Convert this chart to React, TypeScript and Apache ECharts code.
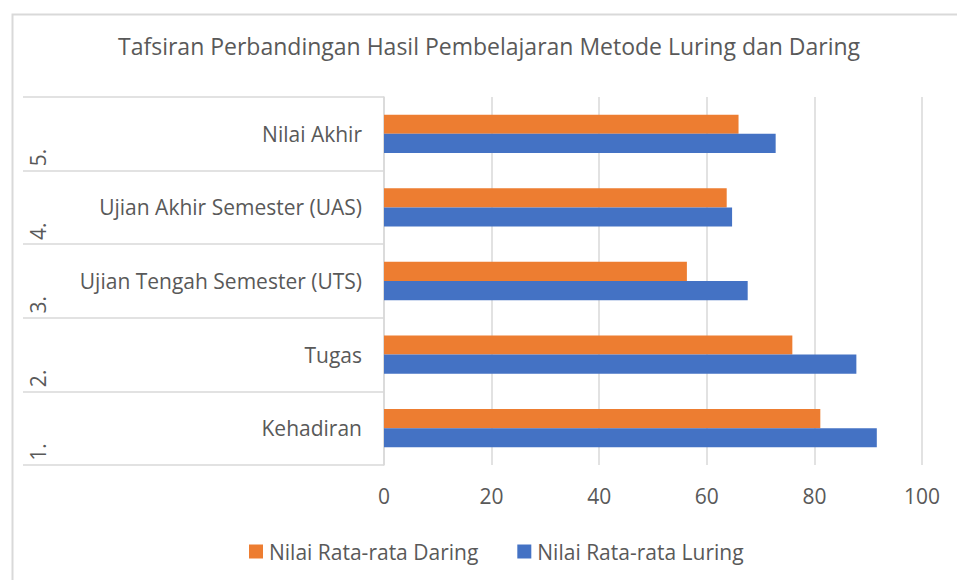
import React, { useEffect, useRef } from "react";
import * as echarts from "echarts";

const categories = ["Kehadiran", "Tugas", "Ujian Tengah Semester (UTS)", "Ujian Akhir Semester (UAS)", "Nilai Akhir"];
const numbers = ["1.", "2.", "3.", "4.", "5."];
const daring = [81.1, 75.9, 56.3, 63.7, 65.9];
const luring = [91.6, 87.8, 67.6, 64.7, 72.8];
const xTicks = { min: 0, max: 100, interval: 20 };
const titleText = "Tafsiran Perbandingan Hasil Pembelajaran Metode Luring dan Daring";
const seriesNames = ["Nilai Rata-rata Daring", "Nilai Rata-rata Luring"];

const FONT = "Open Sans";
const GREY = "#595959";
const LINE = "#d9d9d9";

export default function App() {
  const ref = useRef<HTMLDivElement>(null);
  useEffect(() => {
    const chart = echarts.init(ref.current!, null, { renderer: "svg" });
    chart.setOption({
      animation: false,
      backgroundColor: "#ffffff",
      textStyle: { fontFamily: FONT },
      title: {
        text: titleText,
        left: 113,
        top: 29,
        textStyle: { fontFamily: FONT, fontSize: 23, fontWeight: "normal", color: GREY },
      },
      graphic: [
        {
          type: "rect",
          left: 10,
          top: 12,
          shape: { width: 1000, height: 700 },
          style: { fill: "none", stroke: LINE, lineWidth: 2 },
          silent: true,
        },
      ],
      legend: {
        data: seriesNames,
        left: 249,
        top: 541,
        padding: 0,
        itemWidth: 14,
        itemHeight: 14,
        itemGap: 39,
        icon: "rect",
        textStyle: { fontFamily: FONT, fontSize: 21, color: GREY, padding: [0, 0, 0, 1] },
      },
      grid: { left: 384, right: 35, top: 97, bottom: 115, containLabel: false },
      xAxis: {
        type: "value",
        min: xTicks.min,
        max: xTicks.max,
        interval: xTicks.interval,
        axisLine: { show: false },
        axisTick: { show: false },
        splitLine: { lineStyle: { color: LINE, width: 1.5 } },
        axisLabel: { fontFamily: FONT, fontSize: 21, color: GREY, margin: 20 },
      },
      yAxis: [
        {
          type: "category",
          data: categories,
          axisLine: { show: true, lineStyle: { color: LINE, width: 1.5 } },
          axisTick: { show: true, length: 361, lineStyle: { color: LINE, width: 1.5 } },
          axisLabel: { fontFamily: FONT, fontSize: 21, color: GREY, margin: 22 },
        },
        {
          type: "category",
          data: numbers,
          position: "left",
          axisLine: { show: false },
          axisTick: { show: false },
          axisLabel: {
            fontFamily: FONT,
            fontSize: 21,
            color: GREY,
            rotate: 90,
            margin: 336,
            align: "right",
            padding: [0, 15, 0, 0],
          },
        },
      ],
      series: [
        {
          name: seriesNames[0],
          type: "bar",
          data: daring,
          yAxisIndex: 0,
          itemStyle: { color: "#ed7d31" },
          barGap: "0%",
          barCategoryGap: "48%",
        },
        {
          name: seriesNames[1],
          type: "bar",
          data: luring,
          yAxisIndex: 0,
          itemStyle: { color: "#4472c4" },
          barGap: "0%",
          barCategoryGap: "48%",
        },
      ],
    });
    return () => chart.dispose();
  }, []);
  return <div ref={ref} style={{ position: "fixed", left: 0, top: 0, width: 957, height: 580 }} />;
}
